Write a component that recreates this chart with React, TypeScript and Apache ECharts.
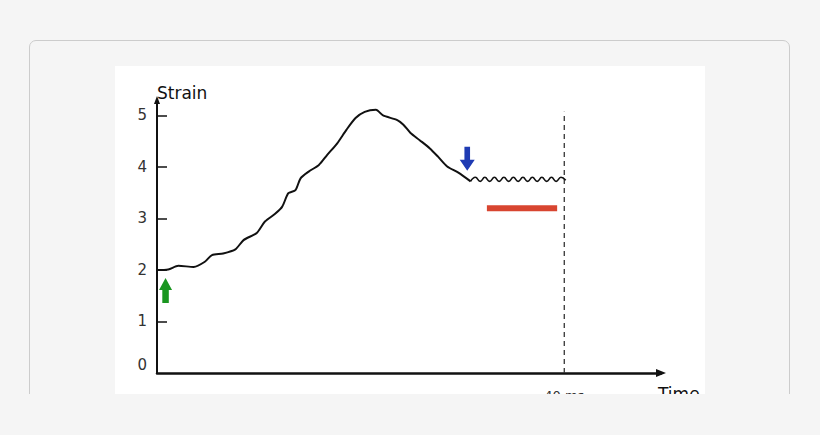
import { useEffect, useRef } from 'react';
import * as echarts from 'echarts';

// strain trace, [time ms, strain]
const STRAIN_CURVE: [number, number][] = [
  [0, 2.0], [1.1, 2.01], [2.1, 2.08], [3.6, 2.06], [4.7, 2.16], [5.4, 2.29],
  [6.5, 2.32], [7.7, 2.4], [8.5, 2.58], [9.8, 2.72], [10.6, 2.94], [11.6, 3.09],
  [12.3, 3.23], [12.9, 3.49], [13.6, 3.55], [14.1, 3.78], [14.9, 3.91], [15.9, 4.04],
  [16.7, 4.23], [17.7, 4.46], [18.6, 4.72], [19.5, 4.95], [20.4, 5.07], [21.5, 5.11],
  [22.2, 5.0], [23.6, 4.91], [24.2, 4.82], [24.9, 4.66], [25.8, 4.52], [26.8, 4.36],
  [27.6, 4.2], [28.5, 4.01], [29.6, 3.89], [30.8, 3.72],
];

// wavy plateau after the release
const WIGGLE: [number, number][] = [
  [30.8, 3.72], [31.27, 3.8], [31.74, 3.72], [32.2, 3.8], [32.67, 3.72], [33.14, 3.8],
  [33.6, 3.72], [34.07, 3.8], [34.54, 3.72], [35.0, 3.8], [35.47, 3.72], [35.94, 3.8],
  [36.4, 3.72], [36.87, 3.8], [37.34, 3.72], [37.8, 3.8], [38.27, 3.72], [38.74, 3.8],
  [39.2, 3.72], [39.67, 3.8], [40.14, 3.74],
];

const RED_BAR: [number, number][] = [[32.4, 3.2], [39.3, 3.2]];
const DASH_LINE: [number, number][] = [[40, 0], [40, 5.07]];
const GREEN_ARROW: [number, number][] = [[0.84, 1.6]];
const BLUE_ARROW: [number, number][] = [[30.47, 4.16]];

const Y_TICKS = [1, 2, 3, 4, 5];
const Y_LABELS = [0, 1, 2, 3, 4, 5];
const X_LABELS = [40];

const UP_ARROW = 'path://M6,0 L12,12 L9,12 L9,25 L3,25 L3,12 L0,12 Z';
const DOWN_ARROW = 'path://M5,0 L11,0 L11,13 L16,13 L8,24 L0,13 L5,13 Z';

const FONT = 'DejaVu Sans';

export default function App() {
  const chartRef = useRef<HTMLDivElement>(null);

  useEffect(() => {
    document.body.style.margin = '0';
    if (!chartRef.current) return;
    const chart = echarts.init(chartRef.current, null, { renderer: 'svg' });
    chart.setOption({
      animation: false,
      grid: { left: 42, top: 34, right: 44, bottom: 53 },
      xAxis: {
        type: 'value',
        min: 0,
        max: 49.5,
        interval: 10,
        axisLine: {
          lineStyle: { color: '#111', width: 2.5 },
          symbol: ['none', 'triangle'],
          symbolSize: [8, 10],
        },
        axisTick: { show: false },
        splitLine: { show: false },
        axisLabel: {
          customValues: X_LABELS,
          formatter: (v: number) => `${v} ms`,
          margin: 16,
          fontSize: 13,
          color: '#333',
          fontFamily: FONT,
        },
        name: 'Time',
        nameLocation: 'end',
        nameGap: -3,
        nameTextStyle: {
          align: 'left',
          verticalAlign: 'top',
          padding: [12, 0, 0, 0],
          fontSize: 17,
          color: '#111',
          fontFamily: FONT,
        },
      },
      yAxis: {
        type: 'value',
        min: 0,
        max: 5.3,
        interval: 1,
        axisLine: {
          show: true,
          lineStyle: { color: '#111', width: 2 },
          symbol: ['none', 'triangle'],
          symbolSize: [6, 8],
        },
        axisTick: {
          show: true,
          inside: true,
          length: 10,
          customValues: Y_TICKS,
          lineStyle: { color: '#111', width: 1.5 },
        },
        splitLine: { show: false },
        axisLabel: {
          customValues: Y_LABELS,
          margin: 10,
          fontSize: 15,
          color: '#333',
          fontFamily: FONT,
          formatter: (v: number) => (v === 0 ? '{z|0}' : String(v)),
          rich: { z: { fontSize: 15, color: '#333', fontFamily: FONT, padding: [0, 0, 16, 0] } },
        },
        name: 'Strain',
        nameLocation: 'end',
        nameGap: 7,
        nameTextStyle: {
          align: 'left',
          verticalAlign: 'middle',
          fontSize: 17,
          color: '#111',
          fontFamily: FONT,
        },
      },
      series: [
        {
          type: 'line',
          data: DASH_LINE,
          showSymbol: false,
          silent: true,
          lineStyle: { color: '#333', width: 1.3, type: [5, 4] },
        },
        {
          type: 'line',
          data: STRAIN_CURVE,
          smooth: 0.25,
          showSymbol: false,
          silent: true,
          lineStyle: { color: '#111', width: 2 },
        },
        {
          type: 'line',
          data: WIGGLE,
          smooth: true,
          showSymbol: false,
          silent: true,
          lineStyle: { color: '#111', width: 1.6 },
        },
        {
          type: 'line',
          data: RED_BAR,
          showSymbol: false,
          silent: true,
          lineStyle: { color: '#d84530', width: 6, cap: 'butt' },
        },
        {
          type: 'scatter',
          data: GREEN_ARROW,
          symbol: UP_ARROW,
          symbolSize: [13, 25],
          silent: true,
          itemStyle: { color: '#1a9620', opacity: 1 },
        },
        {
          type: 'scatter',
          data: BLUE_ARROW,
          symbol: DOWN_ARROW,
          symbolSize: [15, 24],
          silent: true,
          itemStyle: { color: '#1f3bb3', opacity: 1 },
        },
      ],
    });
    return () => chart.dispose();
  }, []);

  return (
    <div style={{ position: 'relative', width: 820, height: 435, background: '#f5f5f5', overflow: 'hidden' }}>
      <div
        style={{
          position: 'absolute',
          left: 29,
          top: 40,
          width: 761,
          height: 430,
          boxSizing: 'border-box',
          border: '1px solid #cccccc',
          borderRadius: 7,
        }}
      />
      <div
        style={{
          position: 'absolute',
          left: 115,
          top: 66,
          width: 590,
          height: 328,
          background: '#ffffff',
          overflow: 'hidden',
        }}
      >
        <div ref={chartRef} style={{ width: 590, height: 360 }} />
      </div>
      <div style={{ position: 'absolute', left: 0, top: 394, width: 820, height: 41, background: '#f5f5f5' }} />
    </div>
  );
}
